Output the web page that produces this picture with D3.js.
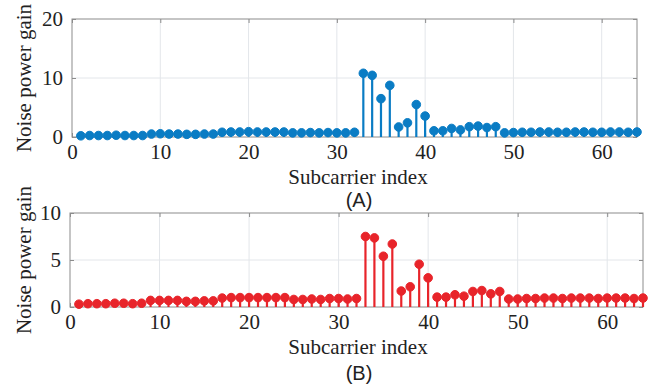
<!DOCTYPE html>
<html>
<head>
<meta charset="utf-8">
<script src="https://cdn.jsdelivr.net/npm/d3@7/dist/d3.min.js"></script>
<style>
  body{margin:0;background:#fff;}
  svg{display:block;}
</style>
</head>
<body>
<svg id="chart" width="657" height="385"></svg>
<script>
// subcarrier indices 1..64
const subcarriers=d3.range(1,65);
const gainA=[
  0.2,0.25,0.25,0.25,0.3,0.25,0.25,0.25,
  0.5,0.55,0.5,0.5,0.45,0.45,0.5,0.5,
  0.8,0.85,0.85,0.9,0.85,0.85,0.85,0.85,
  0.7,0.7,0.75,0.7,0.75,0.7,0.7,0.8,
  10.8,10.45,6.5,8.75,1.7,2.4,5.5,3.55,
  1.05,1.05,1.45,1.2,1.75,1.85,1.6,1.75,
  0.7,0.75,0.8,0.8,0.85,0.85,0.8,0.8,0.85,0.85,0.8,0.8,0.85,0.85,0.8,0.85
];
const gainB=[
  0.3,0.35,0.35,0.35,0.4,0.4,0.35,0.4,
  0.7,0.7,0.7,0.7,0.6,0.6,0.65,0.65,
  0.95,1.0,1.0,1.0,1.0,1.0,1.0,1.0,
  0.8,0.8,0.85,0.8,0.9,0.9,0.85,0.9,
  7.5,7.35,5.4,6.7,1.7,2.15,4.55,3.1,
  1.05,1.05,1.3,1.15,1.65,1.75,1.4,1.65,
  0.85,0.85,0.9,0.9,0.95,0.95,0.9,0.95,0.95,0.95,0.9,0.95,0.95,0.95,0.9,0.95
];
const xTicks=[0,10,20,30,40,50,60];
const yTicksA=[0,10,20];
const yTicksB=[0,5,10];

const svg=d3.select('#chart');
const serif='"Liberation Serif","Times New Roman",serif';
const sans='"Liberation Sans",Arial,sans-serif';

function panel(o){
  const x=d3.scaleLinear().domain([0,64]).range([o.left,o.right]);
  const y=d3.scaleLinear().domain([0,o.ymax]).range([o.bottom,o.top]);
  const g=svg.append('g');
  // grid
  g.append('g').selectAll('line').data(xTicks.filter(t=>t>0)).join('line')
    .attr('x1',d=>x(d)).attr('x2',d=>x(d)).attr('y1',o.top).attr('y2',o.bottom)
    .attr('stroke','#e3e6ea').attr('stroke-width',1);
  g.append('g').selectAll('line').data(o.yTicks.filter(t=>t>0&&t<o.ymax)).join('line')
    .attr('x1',o.left).attr('x2',o.right).attr('y1',d=>y(d)).attr('y2',d=>y(d))
    .attr('stroke','#e3e6ea').attr('stroke-width',1);
  // box
  g.append('rect').attr('x',o.left).attr('y',o.top).attr('width',o.right-o.left).attr('height',o.bottom-o.top)
    .attr('fill','none').attr('stroke','#8c8c8c').attr('stroke-width',1);
  // axes
  g.append('g').attr('transform',`translate(0,${o.bottom})`)
    .call(d3.axisBottom(x).tickValues(xTicks).tickSize(-4).tickPadding(7).tickFormat(d3.format('d')));
  g.append('g').attr('transform',`translate(${o.left},0)`)
    .call(d3.axisLeft(y).tickValues(o.yTicks).tickSize(-4).tickPadding(9).tickFormat(d3.format('d')));
  g.append('g').attr('transform',`translate(0,${o.top})`)
    .call(d3.axisTop(x).tickValues(xTicks).tickSize(-4).tickFormat(''));
  g.append('g').attr('transform',`translate(${o.right},0)`)
    .call(d3.axisRight(y).tickValues(o.yTicks).tickSize(-4).tickFormat(''));
  g.selectAll('.domain').remove();
  g.selectAll('.tick line').attr('stroke','#8c8c8c');
  g.selectAll('.tick text').attr('font-size',21).attr('fill','#222').attr('font-family',serif);
  // stems
  const data=subcarriers.map((s,i)=>({s,v:o.values[i]}));
  g.append('g').selectAll('line').data(data).join('line')
    .attr('x1',d=>x(d.s)).attr('x2',d=>x(d.s)).attr('y1',y(0)).attr('y2',d=>y(d.v))
    .attr('stroke',o.color).attr('stroke-width',2.2);
  g.append('g').selectAll('circle').data(data).join('circle')
    .attr('cx',d=>x(d.s)).attr('cy',d=>y(d.v)).attr('r',4.3)
    .attr('fill',o.color).attr('stroke',o.color).attr('stroke-width',1);
  // labels
  g.append('text').attr('x',358).attr('y',o.bottom+47)
    .attr('text-anchor','middle').attr('font-family',serif).attr('font-size',21).attr('fill','#222')
    .text('Subcarrier index');
  g.append('text').attr('transform',`translate(${o.ylabX},${(o.top+o.bottom)/2}) rotate(-90)`)
    .attr('text-anchor','middle').attr('font-family',serif).attr('font-size',21).attr('fill','#222')
    .text('Noise power gain');
  g.append('text').attr('x',359).attr('y',o.bottom+o.tagDy)
    .attr('text-anchor','middle').attr('font-family',sans).attr('font-size',20).attr('fill','#222')
    .text(o.tag);
}

panel({left:72,right:637,top:19,bottom:137,ymax:20,yTicks:yTicksA,values:gainA,color:'#0a7cc4',ylabX:31,tag:'(A)',tagDy:70});
panel({left:70,right:643,top:213,bottom:307,ymax:10,yTicks:yTicksB,values:gainB,color:'#e8242a',ylabX:31,tag:'(B)',tagDy:73});
</script>
</body>
</html>
